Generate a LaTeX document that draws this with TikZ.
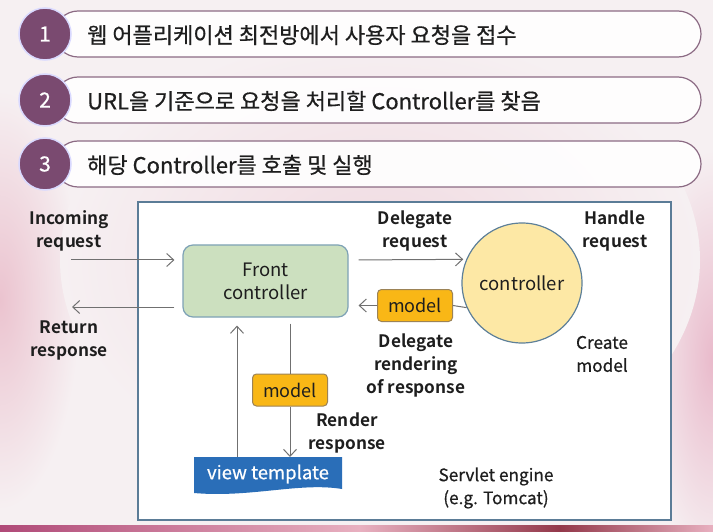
\documentclass[tikz,border=0pt]{standalone}
\usepackage{fontspec}
\setmainfont{Noto Sans CJK KR}[BoldFont={Noto Sans CJK KR Bold}]
\newfontfamily\medfont{Noto Sans CJK KR}[FakeBold=0.6]
\usetikzlibrary{arrows.meta,shapes.geometric}
\definecolor{bg}{HTML}{F6F0F2}
\definecolor{pinkA}{HTML}{EBC3CF}
\definecolor{pinkB}{HTML}{E9BACB}
\definecolor{stripA}{HTML}{B04A78}
\definecolor{stripB}{HTML}{E8B0C0}
\definecolor{stripC}{HTML}{93384A}
\definecolor{numpurple}{HTML}{7A4A70}
\definecolor{barline}{HTML}{8C6B84}
\definecolor{boxblue}{HTML}{5B7C97}
\definecolor{frontfill}{HTML}{CCE0BF}
\definecolor{frontline}{HTML}{7EA2B6}
\definecolor{ctrlfill}{HTML}{FDE8A5}
\definecolor{ctrlline}{HTML}{5E8099}
\definecolor{modelfill}{HTML}{F9B716}
\definecolor{modelline}{HTML}{9C8356}
\definecolor{viewfill}{HTML}{2A6EB8}
\definecolor{arrgray}{HTML}{707070}
\definecolor{txt}{HTML}{1E1E1E}
\tikzset{
  numcirc/.style={circle, fill=numpurple, draw=white!85!blue, line width=1.5pt, minimum size=52pt, inner sep=0pt, text=white, font=\medfont\fontsize{21}{21}\selectfont},
  bartext/.style={anchor=west, inner sep=0pt, text=txt, font=\medfont\fontsize{22}{22}\selectfont},
  lbl/.style={align=center, text=txt, font=\fontsize{17.2}{23}\selectfont\bfseries},
  lblr/.style={align=center, text=txt, font=\medfont\fontsize{17.2}{23}\selectfont},
  modelbox/.style={draw=modelline, fill=modelfill, line width=1pt, rounded corners=4pt, minimum width=75pt, minimum height=32pt, inner sep=0pt, text=txt, font=\fontsize{18}{18}\selectfont},
  arr/.style={draw=arrgray, line width=1pt, -{Straight Barb[length=7pt,width=13pt,line width=1pt]}},
  ln/.style={draw=arrgray, line width=1pt}
}
\begin{document}
\begin{tikzpicture}[x=1pt,y=-1pt]
\useasboundingbox (0,0) rectangle (713,532);
% background
\fill[bg] (0,0) rectangle (713,532);
\shade[inner color=pinkA, outer color=bg] (0,300) ellipse (80 and 210);
\shade[inner color=pinkB, outer color=bg] (713,360) ellipse (70 and 210);
\shade[inner color=pinkA!50!bg, outer color=bg] (380,260) ellipse (320 and 230);
% bottom strip
\shade[left color=stripA, right color=stripB] (0,525) rectangle (360,532);
\shade[left color=stripB, right color=stripC] (360,525) rectangle (560,532);
\shade[left color=stripC, right color=stripB] (560,525) rectangle (713,532);
% top bars
\foreach \i/\y/\t in {1/34/{웹 어플리케이션 최전방에서 사용자 요청을 접수},
                       2/100/{URL을 기준으로 요청을 처리할 Controller를 찾음},
                       3/164/{해당 Controller를 호출 및 실행}}{
  \draw[barline, line width=1.2pt, fill=white, fill opacity=0.9, rounded corners=23pt] (55,\y-23) rectangle (701,\y+23);
  \node[numcirc] (n\i) at (45,\y) {\i};
  \node[bartext] (t\i) at (87,\y+1) {\t};
}
% servlet engine box
\node[draw=boxblue, fill=white, line width=1.2pt, minimum width=533pt, minimum height=318pt, inner sep=0pt] (engine) at (404.5,361) {};
% nodes
\node[draw=frontline, fill=frontfill, line width=1.2pt, rounded corners=10pt, minimum width=165pt, minimum height=72pt, align=center, text=txt, font=\fontsize{18.5}{23}\selectfont] (front) at (265.5,281) {Front\\controller};
\node[circle, draw=ctrlline, fill=ctrlfill, line width=1.2pt, minimum size=120pt, inner sep=0pt, text=txt, font=\fontsize{18.5}{20}\selectfont] (ctrl) at (522,283) {controller};
\node[modelbox] (m1) at (415,305.5) {model};
\node[modelbox] (m2) at (290,390) {model};
\fill[viewfill] (194,457) -- (342,457) -- (342,489) .. controls (300,482) and (250,498) .. (194,493) -- cycle;
\node[minimum width=148pt, minimum height=34pt, inner sep=0pt, text=white, font=\medfont\fontsize{18.5}{20}\selectfont] (view) at (268,474) {view template};
% coordinates
\coordinate (inL) at (71,260);
\coordinate (retL) at (72,307);
\coordinate (rowA) at (0,260);
\coordinate (upx) at (237,0);
% connectors
\draw[arr, shorten >=8pt] (inL) -- (inL -| front.west);
\draw[arr, shorten <=8pt] (retL -| front.west) -- (retL);
\draw[arr, shorten <=10pt, shorten >=3pt] (front.east |- rowA) -- (ctrl.157);
\draw[ln] (ctrl.204) -- (m1.east);
\draw[arr, shorten >=10pt] (m1.west) -- (m1.west -| front.east);
\draw[arr, shorten >=8pt] (upx |- view.north) -- (upx |- front.south);
\draw[ln, shorten <=6pt] (m2.north |- front.south) -- (m2.north);
\draw[arr] (m2.south) -- (m2.south |- 0,457);
% labels
\node[lbl] (inc) at (69,231) {Incoming\\request};
\node[lbl] (ret) at (69,340) {Return\\response};
\node[lbl] (dreq) at (415,231) {Delegate\\request};
\node[lbl] (hreq) at (615,231) {Handle\\request};
\node[lbl] (drend) at (416,365) {Delegate\\rendering\\of response};
\node[lblr] (cmod) at (602,354) {Create\\model};
\node[lbl] (rresp) at (347,433) {Render\\response};
\node[lblr] (serv) at (496,488) {Servlet engine\\(e.g. Tomcat)};
\end{tikzpicture}
\end{document}
